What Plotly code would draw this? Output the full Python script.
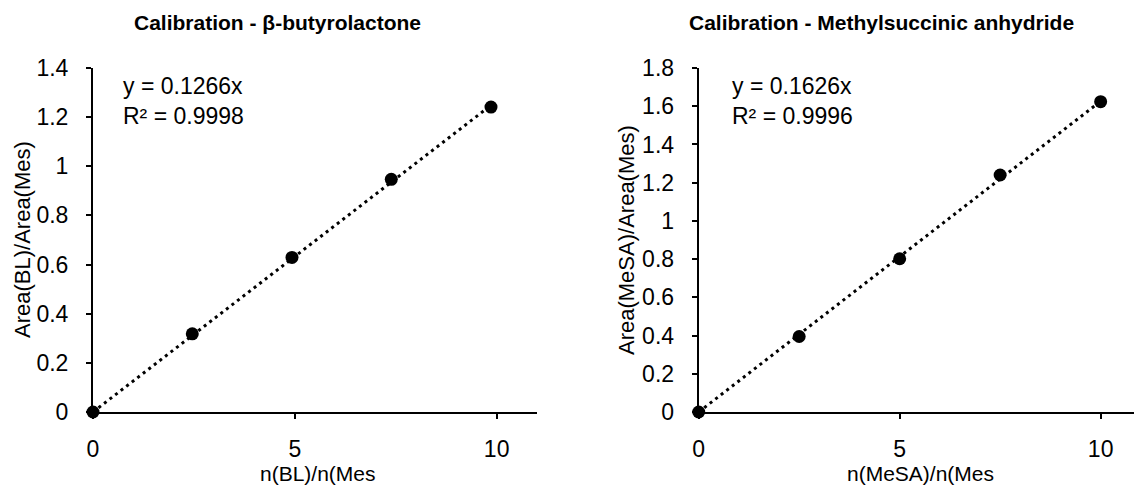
import plotly.graph_objects as go

# ---- data ----
bl_x = [0, 2.46, 4.93, 7.39, 9.86]
bl_y = [0, 0.318, 0.629, 0.947, 1.241]
bl_slope = 0.1266
bl_r2 = 0.9998

mesa_x = [0, 2.5, 5.0, 7.5, 10.0]
mesa_y = [0, 0.395, 0.802, 1.240, 1.624]
mesa_slope = 0.1626
mesa_r2 = 0.9996

titles = ["Calibration - β-butyrolactone", "Calibration - Methylsuccinic anhydride"]
x_titles = ["n(BL)/n(Mes", "n(MeSA)/n(Mes"]
y_titles = ["Area(BL)/Area(Mes)", "Area(MeSA)/Area(Mes)"]

FONT = "Liberation Sans, Arial, sans-serif"
W, H = 1134, 486

fig = go.Figure()

def add_panel(xs, ys, slope, xa, ya):
    tx = [0, max(xs)]
    ty = [slope * v for v in tx]
    fig.add_trace(go.Scatter(x=tx, y=ty, mode="lines", xaxis=xa, yaxis=ya,
                             line=dict(color="black", width=3, dash="3px,4px"),
                             showlegend=False, hoverinfo="skip", cliponaxis=False))
    fig.add_trace(go.Scatter(x=xs, y=ys, mode="markers", xaxis=xa, yaxis=ya,
                             marker=dict(color="black", size=13),
                             showlegend=False, cliponaxis=False))

add_panel(bl_x, bl_y, bl_slope, "x", "y")
add_panel(mesa_x, mesa_y, mesa_slope, "x2", "y2")

axis_common = dict(showline=True, linecolor="black", linewidth=2,
                   ticks="outside", ticklen=5, tickwidth=2, tickcolor="black",
                   showgrid=False, zeroline=False, automargin=False,
                   tickfont=dict(family=FONT, size=23, color="black"))

ydom = [74 / H, 418 / H]
fig.update_layout(
    template="none",
    width=W, height=H,
    margin=dict(l=0, r=0, t=0, b=0, pad=0),
    paper_bgcolor="white", plot_bgcolor="white",
    font=dict(family=FONT, color="black"),
    xaxis=dict(domain=[93 / W, 537 / W], range=[0, 11], tickvals=[0, 5, 10],
               anchor="y", ticklabelstandoff=10, **axis_common),
    yaxis=dict(domain=ydom, range=[0, 1.4], dtick=0.2, anchor="x",
               ticklabelstandoff=13, **axis_common),
    xaxis2=dict(domain=[698.7 / W, 1.0], range=[0, 10.83], tickvals=[0, 5, 10],
                anchor="y2", ticklabelstandoff=10, **axis_common),
    yaxis2=dict(domain=ydom, range=[0, 1.8], dtick=0.2, anchor="x2",
                ticklabelstandoff=13, **axis_common),
)

def px(x):
    return x / W

def py(y):
    return 1 - y / H

ann = []
# chart titles
for t, cx in zip(titles, [277, 881]):
    ann.append(dict(text=f"<b>{t}</b>", x=px(cx), y=py(23), xref="paper", yref="paper",
                    xanchor="center", yanchor="middle", showarrow=False,
                    font=dict(family=FONT, size=21, color="black")))
# x-axis titles
for t, cx in zip(x_titles, [318, 920]):
    ann.append(dict(text=t, x=px(cx), y=0, xref="paper", yref="paper",
                    xanchor="center", yanchor="bottom", showarrow=False, borderpad=0,
                    font=dict(family=FONT, size=21, color="black")))
# y-axis titles
for t, cx in zip(y_titles, [22, 626]):
    ann.append(dict(text=t, x=px(cx), y=py(240), xref="paper", yref="paper",
                    xanchor="center", yanchor="middle", showarrow=False, textangle=-90,
                    font=dict(family=FONT, size=22, color="black")))
# equations
for slope, r2, lx in [(bl_slope, bl_r2, 121), (mesa_slope, mesa_r2, 730)]:
    ann.append(dict(text=f"y = {slope:.4f}x<br>R² = {r2:.4f}", x=px(lx), y=py(101),
                    xref="paper", yref="paper", xanchor="left", yanchor="middle",
                    align="left", showarrow=False,
                    font=dict(family=FONT, size=23, color="black")))
fig.update_layout(annotations=ann)

fig.write_html("out.html")
